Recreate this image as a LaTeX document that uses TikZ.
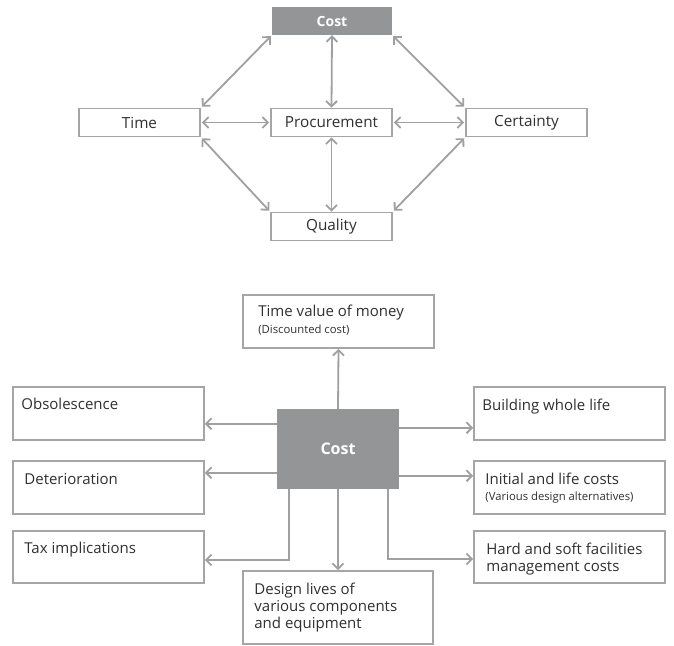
\documentclass[tikz,border=0pt]{standalone}
\usepackage{fontspec}
\setmainfont{Open Sans}
\usetikzlibrary{arrows.meta,calc}
\definecolor{boxgray}{HTML}{A5A5A5}
\definecolor{linegray}{HTML}{A0A0A0}
\definecolor{costfill}{HTML}{939597}
\definecolor{txt}{HTML}{303030}
\tikzset{
  conn/.style={draw=linegray,line width=1.8pt,-{Straight Barb[length=5.5pt,width=11pt]}},
  biconn/.style={draw=linegray,line width=1.8pt,{Straight Barb[length=5.5pt,width=11pt]}-{Straight Barb[length=5.5pt,width=11pt]}},
  smallbox/.style={draw=boxgray,line width=1.6pt,fill=white,inner sep=0pt,minimum width=121pt,minimum height=28pt,text=txt,font=\fontsize{15.3}{17}\selectfont},
  costtop/.style={fill=costfill,inner sep=0pt,minimum width=120pt,minimum height=28pt,text=white,font=\fontsize{14}{16}\selectfont\bfseries},
  bigbox/.style={draw=boxgray,line width=1.6pt,fill=white,inner sep=0pt,minimum width=191pt,minimum height=53pt},
  costbig/.style={fill=costfill,inner sep=0pt,minimum width=122pt,minimum height=80pt,text=white,font=\fontsize{16}{18}\selectfont\bfseries},
  lbl/.style={anchor=base west,inner sep=0pt,text=txt,font=\fontsize{15}{17}\selectfont},
  sub/.style={anchor=base west,inner sep=0pt,text=txt,font=\fontsize{11.3}{13}\selectfont},
}
\begin{document}
\begin{tikzpicture}[x=1pt,y=-1pt]
\useasboundingbox (0,0) rectangle (674,645);
% ---------- top diagram ----------
\node[costtop] (cost) at (332,21) {Cost};
\node[smallbox] (time) at (139.5,122.5) {Time};
\node[smallbox] (proc) at (331.5,122.5) {Procurement};
\node[smallbox] (cert) at (526.5,122.5) {Certainty};
\node[smallbox] (qual) at (331.5,226.5) {Quality};
\draw[biconn] ([xshift=-1pt,yshift=-1pt]cost.south west) -- ([xshift=1pt,yshift=1pt]time.north east);
\draw[biconn] (cost.south) -- (proc.north);
\draw[biconn] ([xshift=1pt,yshift=-1pt]cost.south east) -- ([xshift=-1pt,yshift=1pt]cert.north west);
\draw[biconn] ([xshift=1pt]time.east) -- ([xshift=-1pt]proc.west);
\draw[biconn] ([xshift=1pt]proc.east) -- ([xshift=-1pt]cert.west);
\draw[biconn] ([xshift=1pt,yshift=-1pt]time.south east) -- ([xshift=-1pt,yshift=1pt]qual.north west);
\draw[biconn] (proc.south) -- (qual.north);
\draw[biconn] ([xshift=-1pt,yshift=-1pt]cert.south west) -- ([xshift=1pt,yshift=1pt]qual.north east);
% ---------- bottom diagram ----------
\node[bigbox] (tv) at (338.5,321.5) {};
\node[bigbox] (obs) at (108.5,413.5) {};
\node[bigbox] (det) at (108.5,487.5) {};
\node[bigbox,minimum height=52pt] (tax) at (108.5,557) {};
\node[bigbox] (bwl) at (569.5,413.5) {};
\node[bigbox] (ini) at (569.5,487.5) {};
\node[bigbox,minimum height=52pt] (hard) at (569.5,557) {};
\node[bigbox,minimum width=190pt,minimum height=73pt] (des) at (338,607.5) {};
\node[costbig] (cost2) at (338,449) {Cost};
% texts
\node[lbl] (tvt) at ([xshift=16pt,yshift=-22pt]tv.north west) {Time value of money};
\node[sub] (tvs) at ([xshift=16pt,yshift=-39pt]tv.north west) {(Discounted cost)};
\node[lbl] (obst) at ([xshift=9pt,yshift=-23pt]obs.north west) {Obsolescence};
\node[lbl] (dett) at ([xshift=12pt,yshift=-24pt]det.north west) {Deterioration};
\node[lbl] (taxt) at ([xshift=12pt,yshift=-23pt]tax.north west) {Tax implications};
\node[lbl] (bwlt) at ([xshift=9pt,yshift=-24pt]bwl.north west) {Building whole life};
\node[lbl] (init) at ([xshift=12pt,yshift=-24pt]ini.north west) {Initial and life costs};
\node[sub] (inis) at ([xshift=12pt,yshift=-40pt]ini.north west) {(Various design alternatives)};
\node[lbl] (hardt1) at ([xshift=13pt,yshift=-24pt]hard.north west) {Hard and soft facilities};
\node[lbl] (hardt2) at ([xshift=13pt,yshift=-41pt]hard.north west) {management costs};
\node[lbl] (dest1) at ([xshift=12pt,yshift=-24pt]des.north west) {Design lives of};
\node[lbl] (dest2) at ([xshift=12pt,yshift=-41pt]des.north west) {various components};
\node[lbl] (dest3) at ([xshift=12pt,yshift=-58pt]des.north west) {and equipment};
% connectors
\draw[conn] (cost2.north) -- (tv.south);
\draw[conn] ([yshift=-15pt]cost2.north west) -- ([yshift=-15pt]cost2.north west -| obs.east);
\draw[conn] ([yshift=-64pt]cost2.north west) -- ([yshift=-64pt]cost2.north west -| det.east);
\draw[conn] ([yshift=-19pt]cost2.north east) -- ([yshift=-19pt]cost2.north east -| bwl.west);
\draw[conn] ([yshift=-67pt]cost2.north east) -- ([yshift=-67pt]cost2.north east -| ini.west);
\draw[conn] ([xshift=12pt]cost2.south west) |- ([yshift=-3pt]tax.east);
\draw[conn] (cost2.south) -- (des.north);
\draw[conn] ([xshift=-11pt]cost2.south east) |- ([yshift=-2pt]hard.west);
\end{tikzpicture}
\end{document}
